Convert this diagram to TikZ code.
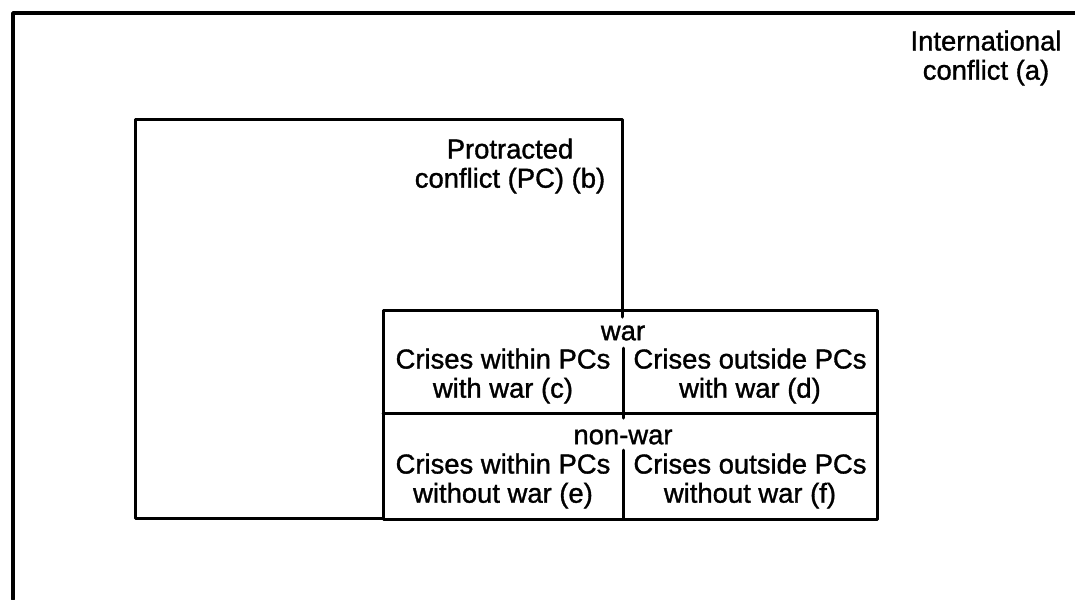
\documentclass[tikz,border=0pt]{standalone}
\usepackage{fontspec}
\setmainfont{Liberation Sans}[FakeBold=1.2]
\usepackage{tikz}
\tikzset{
	lbl/.style={align=center, inner sep=0pt, font=\fontsize{15.6}{16.6}\selectfont},
	frame/.style={line width=0.75mm, line cap=round, line join=round},
	cell/.style={line width=0.6mm, line cap=round, line join=round}
}

\begin{document}
\begin{tikzpicture}[x=0.02cm, y=-0.02cm]
			%%%%% START %%%%%
			
			\useasboundingbox (0, 0) rectangle (1075, 599);
			
			% international conflict (a)
			\draw[frame] (13, 599) -- (13, 13) -- (1075, 13);
			\node[lbl] (intl) at (986, 58) {International\\conflict (a)};
			
			% protracted conflict (b)
			\draw[cell] (622, 317) -- (622, 119) -- (135, 119) -- (135, 518) -- (383, 518);
			\node[lbl] (prot) at (510, 166) {Protracted\\conflict (PC) (b)};
			
			% crises
			\draw[cell] (383, 310) rectangle (877, 519);
			\draw[cell] (383, 413) -- (877, 413);
			\draw[cell] (623, 348) -- (623, 418);
			\draw[cell] (623, 450) -- (623, 519);
			
			\node[lbl] (war) at (623, 333) {war};
			\node[lbl] (cw) at (503, 376) {Crises within PCs\\with war (c)};
			\node[lbl] (dw) at (750, 376) {Crises outside PCs\\with war (d)};
			
			\node[lbl] (nonwar) at (623, 437) {non-war};
			\node[lbl] (cnw) at (503, 481) {Crises within PCs\\without war (e)};
			\node[lbl] (dnw) at (750, 481) {Crises outside PCs\\without war (f)};
			
			%%%%% END %%%%%
		\end{tikzpicture}
\end{document}
